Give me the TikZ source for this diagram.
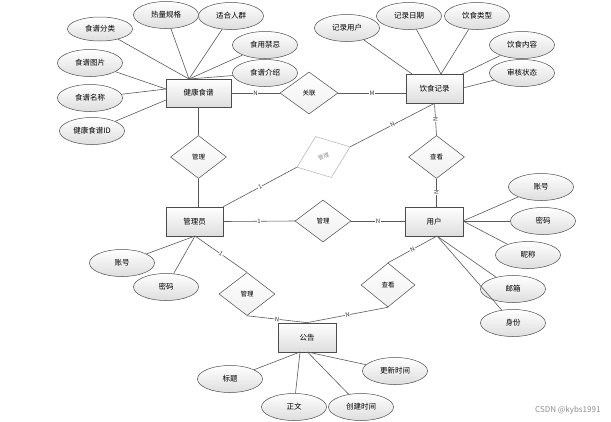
\documentclass[tikz,border=0pt]{standalone}
\usepackage{fontspec}
\setmainfont{Noto Sans CJK SC}
\usetikzlibrary{shapes.geometric}
\tikzset{
  basefont/.style={font=\fontsize{7.5}{9}\selectfont},
  ent/.style={rectangle, draw=black!70, line width=0.7pt, minimum width=57pt, minimum height=29pt, inner sep=0pt, top color=white, bottom color=black!13, basefont},
  attr/.style={ellipse, draw=black!70, line width=0.5pt, minimum width=65pt, minimum height=27pt, inner sep=0pt, top color=white, bottom color=black!13, basefont},
  rel/.style={diamond, draw=black!70, line width=0.5pt, minimum width=56pt, minimum height=43pt, inner sep=0pt, top color=white, bottom color=black!6, font=\fontsize{6.5}{7}\selectfont},
  conn/.style={draw=black!65, line width=0.6pt},
  lab/.style={font=\fontsize{6}{6}\selectfont, fill=white, inner sep=0.4pt, text=black!80},
}
\begin{document}
\begin{tikzpicture}[x=1pt,y=-1pt]
\useasboundingbox (0,0) rectangle (611,421);
% entities
\node[ent, minimum width=65pt, minimum height=28pt] (hj) at (198.5,93) {健康食谱};
\node[ent] (yj) at (434.5,88.5) {饮食记录};
\node[ent] (gly) at (194.5,221.5) {管理员};
\node[ent, minimum width=58pt] (yh) at (434,221.5) {用户};
\node[ent, minimum width=58pt] (gg) at (307,337.5) {公告};
% relations
\node[rel, minimum width=58pt, minimum height=42pt] (gl) at (309,93) {关联};
\node[rel] (d1) at (198.5,157) {管理};
\node[rel, draw=black!30, text=black!45, font=\fontsize{5.5}{6}\selectfont, minimum width=57pt, minimum height=44pt, top color=white, bottom color=white, rotate=21] (d3) at (323.5,157) {管理};
\node[rel] (ck1) at (436.5,157) {查看};
\node[rel, minimum height=42pt] (d2) at (323,221) {管理};
\node[rel] (d4) at (247,294) {管理};
\node[rel, minimum width=54pt, minimum height=44pt] (ck2) at (388,285) {查看};
% attributes of 健康食谱
\node[attr, minimum height=24pt] (a1) at (100,29) {食谱分类};
\node[attr] (a2) at (166,15) {热量规格};
\node[attr] (a3) at (231,16) {适合人群};
\node[attr] (a4) at (265,45) {食用禁忌};
\node[attr] (a5) at (265,73) {食谱介绍};
\node[attr] (a6) at (90,63) {食谱图片};
\node[attr] (a7) at (90,98) {食谱名称};
\node[attr] (a8) at (92,131) {健康食谱ID};
% attributes of 饮食记录
\node[attr] (b1) at (347,28) {记录用户};
\node[attr] (b2) at (409,16) {记录日期};
\node[attr] (b3) at (477,16) {饮食类型};
\node[attr] (b4) at (522,45) {饮食内容};
\node[attr] (b5) at (522,73) {审核状态};
% attributes of 用户
\node[attr] (c1) at (541,187) {账号};
\node[attr] (c2) at (543,221) {密码};
\node[attr] (c3) at (528,255) {昵称};
\node[attr] (c4) at (513,289) {邮箱};
\node[attr] (c5) at (513,323) {身份};
% attributes of 管理员
\node[attr] (e1) at (122,263) {账号};
\node[attr] (e2) at (166,287) {密码};
% attributes of 公告
\node[attr] (f1) at (230,379) {标题};
\node[attr] (f2) at (395,371) {更新时间};
\node[attr] (f3) at (294,407) {正文};
\node[attr] (f4) at (361,407) {创建时间};
% attachment points
\coordinate (hjT) at (189,79);
\coordinate (hjL) at (166,89);
\coordinate (hjL2) at (166,100);
\coordinate (yjT1) at (412,74);
\coordinate (yjT2) at (441,74);
\coordinate (yjT4) at (462,74);
\coordinate (yjR) at (463,88);
\coordinate (yhR) at (463,221);
\coordinate (yhB) at (437,236);
\coordinate (glyB) at (195,236);
\coordinate (ggB1) at (300,352);
\coordinate (ggB2) at (307.5,352);
% attribute lines
\foreach \a in {a1,a2,a3,a4,a5} \draw[conn] (\a) -- (hjT);
\draw[conn] (a6) -- (hjL);
\draw[conn] (a7) -- (hjL);
\draw[conn] (a8) -- (hjL2);
\draw[conn] (b1) -- (yjT1);
\draw[conn] (b2) -- (yjT2);
\draw[conn] (b3) -- (yjT2);
\draw[conn] (b4) -- (yjT4);
\draw[conn] (b5) -- (yjR);
\foreach \a in {c1,c2,c3} \draw[conn] (\a) -- (yhR);
\draw[conn] (c4) -- (yhB);
\draw[conn] (c5) -- (yhB);
\draw[conn] (e1) -- (glyB);
\draw[conn] (e2) -- (glyB);
\draw[conn] (f1) -- (ggB1);
\draw[conn] (f3) -- (ggB1);
\draw[conn] (f4) -- (ggB2);
\draw[conn] (f2) -- (ggB2);
% relationship lines
\draw[conn] (hj.east) -- node[lab] {N} (gl.west);
\draw[conn] (gl.east) -- node[lab] {M} (gl.east -| yj.west);
\draw[conn] (hj.south) -- (d1.north);
\draw[conn] (d1.south) -- (d1.south |- gly.north);
\draw[conn] (yj.south) -- node[lab, rotate=90] {N} (ck1.north);
\draw[conn] (ck1.south) -- node[lab, rotate=90] {N} (ck1.south |- yh.north);
\draw[conn] (gly.east) -- node[lab] {1} (d2.west);
\draw[conn] (d2.east) -- node[lab] {N} (d2.east -| yh.west);
\draw[conn] (gly.north east) -- node[lab, sloped] {1} (d3.west);
\draw[conn] (d3.east) -- node[lab, sloped] {N} (yj.south);
\draw[conn] (glyB) -- node[lab, sloped] {1} (d4.north);
\draw[conn] (d4.south) -- node[lab, sloped] {N} (gg.north);
\draw[conn] (gg.north) -- node[lab, sloped] {N} (ck2.south);
\draw[conn] (ck2.north) -- node[lab, sloped] {N} (yhB);
% watermark
\node[font=\fontsize{8}{8}\selectfont, text=black!45, anchor=east] (wm) at (604,410) {CSDN @kybs1991};
\end{tikzpicture}
\end{document}
